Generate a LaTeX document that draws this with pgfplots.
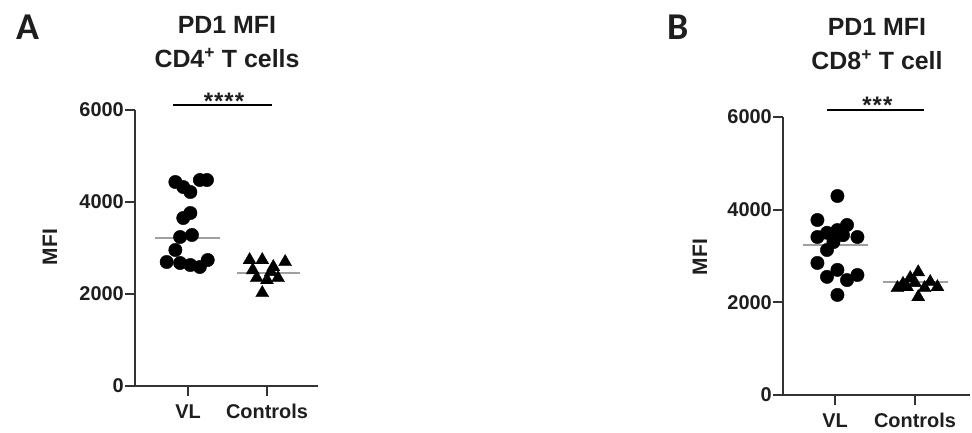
\documentclass[border=0pt]{standalone}
\usepackage{fontspec}
\setmainfont{Liberation Sans}
\newfontfamily\calibri{Carlito}
\usepackage{pgfplots}
\pgfplotsset{compat=1.18}
\definecolor{axisgray}{HTML}{333333}
\definecolor{txt}{HTML}{1E1E1E}
\definecolor{medgray}{HTML}{A0A0A0}
\pgfplotsset{prism/.style={
  scale only axis, axis lines=left,
  axis line style={-, line width=2.4bp, draw=axisgray},
  ymin=0, ymax=6000, ytick={0,2000,4000,6000},
  xtick={1,2}, xticklabels={VL,Controls},
  tick align=outside, major tick length=10bp,
  tick style={line width=2bp, draw=axisgray},
  every tick label/.append style={font=\fontsize{20}{20}\selectfont\bfseries, text=txt},
  /pgf/number format/assume math mode=true,
  scaled y ticks=false,
  yticklabel style={/pgf/number format/1000 sep={}, inner sep=1bp},
  xticklabel style={yshift=-5bp},
  clip=false,
}}
\begin{document}
\begin{tikzpicture}[x=1bp,y=1bp]
\useasboundingbox (0,0) rectangle (972,432);
% Panel A
\begin{axis}[prism, at={(135bp,46bp)}, anchor=south west, width=183bp, height=276bp,
  xmin=0.329, xmax=2.646]
\addplot[only marks, mark=*, mark size=6.7bp, black] coordinates {
(0.84,4435) (0.94,4326) (1.03,4217) (1.15,4478) (1.24,4478)
(1.03,3761) (0.94,3652) (0.90,3239) (1.05,3283) (0.84,2957)
(0.73,2696) (0.90,2674) (1.03,2630) (1.15,2587) (1.25,2739)};
\addplot[only marks, mark=triangle*, mark size=7.5bp, black] coordinates {
(1.78,2739) (1.94,2739) (2.08,2587) (2.23,2696) (1.87,2348)
(2.00,2304) (2.14,2348) (1.94,2022) (1.82,2520) (2.05,2480)};
\addplot[medgray, line width=2bp] coordinates {(0.58,3217) (1.41,3217)};
\addplot[medgray, line width=2bp] coordinates {(1.62,2457) (2.42,2457)};
\addplot[black, line width=2bp] coordinates {(0.81,6109) (2.06,6109)};
\node[font=\fontsize{24}{24}\selectfont\bfseries, text=txt] at (axis cs:1.456,6200) {*\kern1bp*\kern1bp*\kern1bp*};
\end{axis}
% Panel B
\begin{axis}[prism, at={(783bp,37bp)}, anchor=south west, width=187bp, height=278bp,
  xmin=0.35, xmax=2.6875]
\addplot[only marks, mark=*, mark size=6.7bp, black] coordinates {
(1.03,4295) (0.78,3777) (1.15,3670) (1.03,3560) (0.90,3500)
(0.78,3410) (1.28,3410) (1.10,3450) (0.98,3300) (0.90,3130)
(0.78,2850) (1.03,2700) (0.90,2550) (1.15,2480) (1.28,2590) (1.03,2160)};
\addplot[only marks, mark=triangle*, mark size=7.5bp, black] coordinates {
(1.78,2310) (1.94,2525) (2.04,2650) (2.19,2440) (2.28,2330)
(2.04,2115) (1.90,2330) (2.12,2310) (1.85,2400) (2.00,2420)};
\addplot[medgray, line width=2bp] coordinates {(0.60,3237) (1.41,3237)};
\addplot[medgray, line width=2bp] coordinates {(1.60,2439) (2.41,2439)};
\addplot[black, line width=2bp] coordinates {(0.90,6150) (2.11,6150)};
\node[font=\fontsize{24}{24}\selectfont\bfseries, text=txt] at (axis cs:1.53,6250) {*\kern1bp*\kern1bp*};
\end{axis}
% texts
\node[font=\calibri\fontsize{38}{38}\selectfont\bfseries, text=txt] at (28,405) {A};
\node[font=\calibri\fontsize{38}{38}\selectfont\bfseries, text=txt] at (678,405) {B};
\node[font=\fontsize{25}{25}\selectfont\bfseries, text=txt] at (227,407) {PD1 MFI};
\node[font=\fontsize{25}{25}\selectfont\bfseries, text=txt] at (227,374) {CD4\textsuperscript{+} T cells};
\node[font=\fontsize{25}{25}\selectfont\bfseries, text=txt] at (877,405) {PD1 MFI};
\node[font=\fontsize{25}{25}\selectfont\bfseries, text=txt] at (877,372) {CD8\textsuperscript{+} T cell};
\node[font=\fontsize{21}{21}\selectfont\bfseries, text=txt, rotate=90] at (50,185) {MFI};
\node[font=\fontsize{21}{21}\selectfont\bfseries, text=txt, rotate=90] at (700,175) {MFI};
\end{tikzpicture}
\end{document}
